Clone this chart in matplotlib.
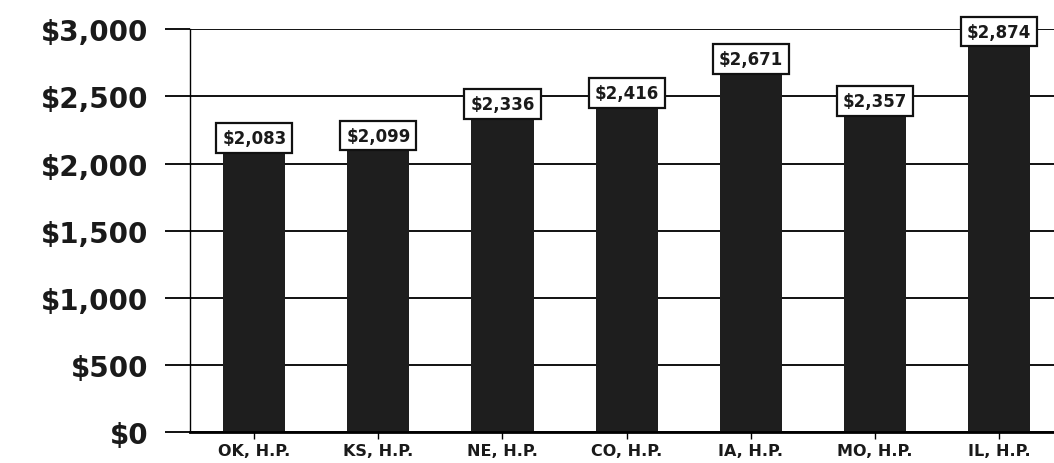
import matplotlib
matplotlib.use("Agg")
import matplotlib.pyplot as plt
from matplotlib.ticker import FuncFormatter

categories = ["OK, H.P.", "KS, H.P.", "NE, H.P.", "CO, H.P.", "IA, H.P.", "MO, H.P.", "IL, H.P."]
values = [2083, 2099, 2336, 2416, 2671, 2357, 2874]
yticks = [0, 500, 1000, 1500, 2000, 2500, 3000]

plt.rcParams['font.family'] = ['DejaVu Sans']

fig = plt.figure(figsize=(10.54, 4.64), dpi=100)
ax = fig.add_axes([0.180, 0.0668, 0.829, 0.868])

x = range(len(categories))
ax.bar(x, values, width=0.5, color="#1e1e1e", zorder=2)

ax.set_xlim(-0.52, len(categories) - 0.48)
ax.set_ylim(0, 3000)
ax.set_yticks(yticks)
ax.yaxis.set_major_formatter(FuncFormatter(lambda v, p: f"${v:,.0f}"))
ax.set_xticks(list(x))
ax.set_xticklabels(categories)

ax.yaxis.grid(True, color="#111111", linewidth=1.4, zorder=1)
ax.set_axisbelow(True)

for side in ["top", "right"]:
    ax.spines[side].set_visible(False)
ax.spines["left"].set_linewidth(1.0)
ax.spines["bottom"].set_linewidth(2.0)

ax.tick_params(axis="y", length=18, width=1.4, pad=12, labelsize=20, color="#111111")
ax.tick_params(axis="x", length=5, width=1.0, pad=3, labelsize=11.5)
for lab in ax.get_yticklabels() + ax.get_xticklabels():
    lab.set_fontweight("bold")
    lab.set_color("#1a1a1a")

for xi, v in zip(x, values):
    ax.annotate(f"${v:,}", xy=(xi, v), xytext=(0, 4), textcoords="offset points",
                ha="center", va="bottom", fontsize=12, fontweight="bold", color="#1a1a1a",
                bbox=dict(boxstyle="square,pad=0.35", fc="white", ec="#111111", lw=1.6),
                zorder=5, annotation_clip=False)

fig.savefig("out.png", dpi=100)
